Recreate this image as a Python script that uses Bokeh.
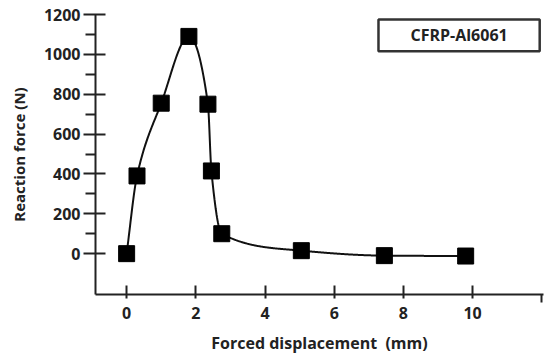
import numpy as np
from bokeh.plotting import figure
from bokeh.models import Range1d, FixedTicker, BoxAnnotation, Label
from bokeh.embed import file_html
from bokeh.resources import INLINE

# ---- data ----
disp = [0.0, 0.3, 1.0, 1.8, 2.35, 2.45, 2.75, 5.05, 7.45, 9.8]
force = [0, 390, 755, 1090, 750, 415, 100, 15, -10, -12]
x_ticks = [0, 2, 4, 6, 8, 10]
y_ticks = [0, 200, 400, 600, 800, 1000, 1200]
y_minor = [100, 300, 500, 700, 900, 1100]
legend_text = "CFRP-Al6061"


def pchip(x, y, xs):
    x = np.asarray(x, float)
    y = np.asarray(y, float)
    h = np.diff(x)
    d = np.diff(y) / h
    n = len(x)
    m = np.zeros(n)
    for k in range(1, n - 1):
        if d[k - 1] * d[k] <= 0:
            m[k] = 0.0
        else:
            w1 = 2 * h[k] + h[k - 1]
            w2 = h[k] + 2 * h[k - 1]
            m[k] = (w1 + w2) / (w1 / d[k - 1] + w2 / d[k])
    m[0] = d[0]
    m[-1] = d[-1]
    out = np.empty_like(xs)
    idx = np.clip(np.searchsorted(x, xs) - 1, 0, n - 2)
    for i, (xv, k) in enumerate(zip(xs, idx)):
        t = (xv - x[k]) / h[k]
        h00 = 2 * t**3 - 3 * t**2 + 1
        h10 = t**3 - 2 * t**2 + t
        h01 = -2 * t**3 + 3 * t**2
        h11 = t**3 - t**2
        out[i] = h00 * y[k] + h10 * h[k] * m[k] + h01 * y[k + 1] + h11 * h[k] * m[k + 1]
    return out


xs = np.linspace(disp[0], disp[-1], 800)
ys = pchip(disp, force, xs)

FONT = "Open Sans"
INK = "#222222"

p = figure(width=546, height=356, output_backend="svg", toolbar_location=None,
           x_range=Range1d(-0.9, 12.05), y_range=Range1d(-205, 1200),
           min_border_left=95, min_border_right=3, min_border_top=14, min_border_bottom=61)
p.outline_line_color = None
p.xgrid.grid_line_color = None
p.ygrid.grid_line_color = None
p.background_fill_color = "white"
p.border_fill_color = "white"

p.line(xs, ys, line_color="#111111", line_width=2)
p.scatter(disp, force, marker="square", size=16, fill_color="black", line_color="black")

# x axis
xa = p.xaxis[0]
xa.ticker = FixedTicker(ticks=x_ticks, minor_ticks=[12])
xa.axis_label = "Forced displacement\u00a0\u00a0(mm)"
xa.axis_line_width = 2
xa.axis_line_color = INK
xa.major_tick_line_width = 2
xa.major_tick_line_color = INK
xa.major_tick_in = 9
xa.major_tick_out = 4
xa.minor_tick_in = 0
xa.minor_tick_out = 8
xa.minor_tick_line_width = 2
xa.minor_tick_line_color = INK
xa.major_label_text_font = FONT
xa.major_label_text_font_style = "bold"
xa.major_label_text_font_size = "16px"
xa.major_label_text_color = INK
xa.major_label_standoff = 4
xa.axis_label_text_font = FONT
xa.axis_label_text_font_style = "bold"
xa.axis_label_text_font_size = "16px"
xa.axis_label_text_color = INK
xa.axis_label_standoff = 10

# y axis
ya = p.yaxis[0]
ya.ticker = FixedTicker(ticks=y_ticks, minor_ticks=y_minor)
ya.axis_label = "Reaction force (N)"
ya.axis_line_width = 2
ya.axis_line_color = INK
ya.major_tick_line_width = 2
ya.major_tick_line_color = INK
ya.major_tick_in = 10
ya.major_tick_out = 12
ya.minor_tick_in = 0
ya.minor_tick_out = 10
ya.minor_tick_line_width = 2
ya.minor_tick_line_color = INK
ya.major_label_text_font = FONT
ya.major_label_text_font_style = "bold"
ya.major_label_text_font_size = "16px"
ya.major_label_text_color = INK
ya.major_label_standoff = 3
ya.axis_label_text_font = FONT
ya.axis_label_text_font_style = "bold"
ya.axis_label_text_font_size = "15px"
ya.axis_label_text_color = INK
ya.axis_label_standoff = 12

# legend-like box
p.add_layout(BoxAnnotation(left=7.28, right=11.94, bottom=1015, top=1175,
                           fill_color="white", fill_alpha=1.0,
                           line_color="#333333", line_alpha=1.0, line_width=2.5))
p.add_layout(Label(x=9.61, y=1095, text=legend_text, text_align="center",
                   text_baseline="middle", text_font=FONT, text_font_style="bold",
                   text_font_size="16px", text_color=INK))

open("out.html", "w").write(file_html(p, INLINE))
